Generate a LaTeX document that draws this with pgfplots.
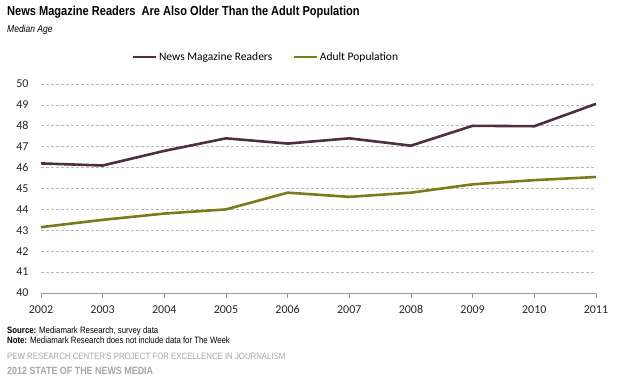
\documentclass[border=0pt]{standalone}
\usepackage{pgfplots}
\pgfplotsset{compat=1.18}
\usepackage{fontspec}
\setmainfont{Liberation Sans}
\newfontfamily\calibri{Carlito}
\newfontfamily\narrow[FakeStretch=0.85]{Liberation Sans}
\definecolor{readers}{HTML}{4F2D42}
\definecolor{adult}{HTML}{7B7A1C}
\definecolor{foot}{HTML}{A6A6A6}
\begin{document}
\begin{tikzpicture}[x=1pt,y=1pt]
\useasboundingbox (0pt,0pt) rectangle (621pt,388pt);
\node[anchor=base west, inner sep=0] at (7pt,372pt) {\narrow\bfseries\fontsize{13}{16}\selectfont News Magazine Readers\ \ Are Also Older Than the Adult Population};
\node[anchor=base west, inner sep=0] at (7pt,355pt) {\narrow\itshape\fontsize{10}{12}\selectfont Median Age};
\node[anchor=base west, inner sep=0] at (7pt,54.7pt) {\narrow\fontsize{9.2}{11}\selectfont \textbf{Source:} Mediamark Research, survey data};
\node[anchor=base west, inner sep=0] at (7pt,44pt) {\narrow\fontsize{9.2}{11}\selectfont \textbf{Note:} Mediamark Research does not include data for The Week};
\node[anchor=base west, inner sep=0, text=foot] at (7pt,28pt) {\narrow\fontsize{9.2}{11}\selectfont PEW RESEARCH CENTER'S PROJECT FOR EXCELLENCE IN JOURNALISM};
\node[anchor=base west, inner sep=0, text=foot] at (7pt,13pt) {\narrow\bfseries\fontsize{10.5}{13}\selectfont 2012 STATE OF THE NEWS MEDIA};
\begin{axis}[
  at={(41pt,95pt)}, anchor=south west,
  scale only axis, width=555pt, height=209pt,
  xmin=2002, xmax=2011, ymin=40, ymax=50,
  xtick={2002,...,2011}, ytick={40,...,50},
  /pgf/number format/1000 sep={},
  /pgf/number format/assume math mode=true,
  ticklabel style={font=\calibri\fontsize{12}{14}\selectfont, text=black!85},
  axis x line*=bottom, axis y line*=left,
  y axis line style={draw=none},
  x axis line style={draw=gray!80, line width=0.8pt},
  xtick style={draw=gray!80, line width=0.8pt},
  ytick style={draw=none},
  xtick align=outside, major tick length=5pt,
  ymajorgrids, grid style={densely dashed, gray!55, line width=0.6pt},
  yticklabel style={anchor=east, xshift=-9pt},
  xticklabel style={yshift=-4pt},
  clip=false,
  legend columns=2,
  legend style={draw=none, fill=none, at={(0.405,1.129)}, anchor=center,
    font=\calibri\fontsize{11.5}{14}\selectfont,
    /tikz/every even column/.append style={column sep=18pt},
    inner sep=0pt, cells={anchor=west}},
  legend image code/.code={\draw[#1] (0pt,0pt) -- (23pt,0pt);},
]
\addplot[readers, line width=2.6pt] coordinates {
(2002,46.2) (2003,46.1) (2004,46.8) (2005,47.4) (2006,47.15) (2007,47.4) (2008,47.05) (2009,48.0) (2010,47.98) (2011,49.05)};
\addlegendentry{News Magazine Readers}
\addplot[adult, line width=2.6pt] coordinates {
(2002,43.15) (2003,43.5) (2004,43.8) (2005,44.0) (2006,44.8) (2007,44.6) (2008,44.8) (2009,45.2) (2010,45.4) (2011,45.55)};
\addlegendentry{Adult Population}
\end{axis}
\end{tikzpicture}
\end{document}
